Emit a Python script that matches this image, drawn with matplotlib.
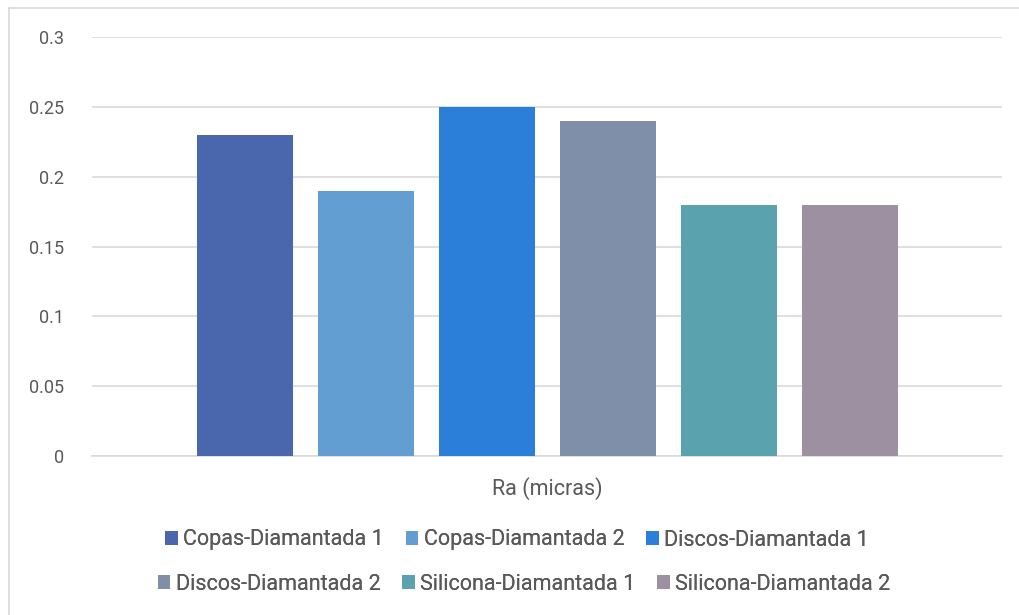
import matplotlib.pyplot as plt
from matplotlib.lines import Line2D
from matplotlib.patches import Patch
import numpy as np

plt.rcParams['font.family'] = ['Roboto', 'DejaVu Sans']

category = 'Ra (micras)'
series = ['Copas-Diamantada 1', 'Copas-Diamantada 2', 'Discos-Diamantada 1',
          'Discos-Diamantada 2', 'Silicona-Diamantada 1', 'Silicona-Diamantada 2']
values = [0.23, 0.19, 0.25, 0.24, 0.18, 0.18]
colors = ['#4a66ad', '#639ed2', '#2c7fd8', '#7f8fa9', '#5aa2ae', '#9d90a0']

W, H = 1019, 615
fig = plt.figure(figsize=(W / 100, H / 100), dpi=100)
ax = fig.add_axes([92 / W, (H - 456) / H, (1002 - 92) / W, (456 - 37) / H])

slot = 121 / 910  # spacing between bar centres, in axis units
width = 96 / 910
offsets = (np.arange(len(series)) - (len(series) - 1) / 2) * slot
for off, v, c, name in zip(offsets, values, colors, series):
    ax.bar(off, v, width, color=c, label=name, zorder=3)

ax.set_xlim(-0.5, 0.5)
ax.set_ylim(0, 0.3)
ax.set_yticks([0, 0.05, 0.1, 0.15, 0.2, 0.25, 0.3])
ax.set_yticklabels(['0', '0.05', '0.1', '0.15', '0.2', '0.25', '0.3'])
ax.set_xticks([])
ax.yaxis.grid(True, color='#d9d9d9', linewidth=1.2, zorder=0)
for s in ['top', 'right', 'left']:
    ax.spines[s].set_visible(False)
ax.spines['bottom'].set_color('#d9d9d9')
ax.spines['bottom'].set_linewidth(1.2)
ax.tick_params(axis='y', length=0, pad=20, labelsize=13, labelcolor='#595959')

fig.text(547 / W, 1 - 489 / H, category, ha='center', va='center',
         fontsize=15.5, color='#595959')

# Excel centres each legend row separately, so use one legend per row
handles = [Patch(facecolor=c) for c in colors]
for row, xcen, ycen in [(0, 517, 540), (1, 524, 584)]:
    idx = range(row * 3, row * 3 + 3)
    leg = fig.legend([handles[i] for i in idx], [series[i] for i in idx],
                     loc='center', bbox_to_anchor=(xcen / W, 1 - ycen / H),
                     ncol=3, frameon=False, fontsize=15.5,
                     handlelength=0.6, handleheight=0.6, handletextpad=0.25,
                     columnspacing=1.0, labelcolor='#595959')
    fig.add_artist(leg)

# chart border (only top and left visible in the crop)
fig.add_artist(Line2D([9 / W, 9 / W], [0, 1 - 8 / H], color='#d9d9d9', lw=1.2))
fig.add_artist(Line2D([9 / W, 1], [1 - 8 / H, 1 - 8 / H], color='#d9d9d9', lw=1.2))

fig.savefig('out.png', dpi=100)
